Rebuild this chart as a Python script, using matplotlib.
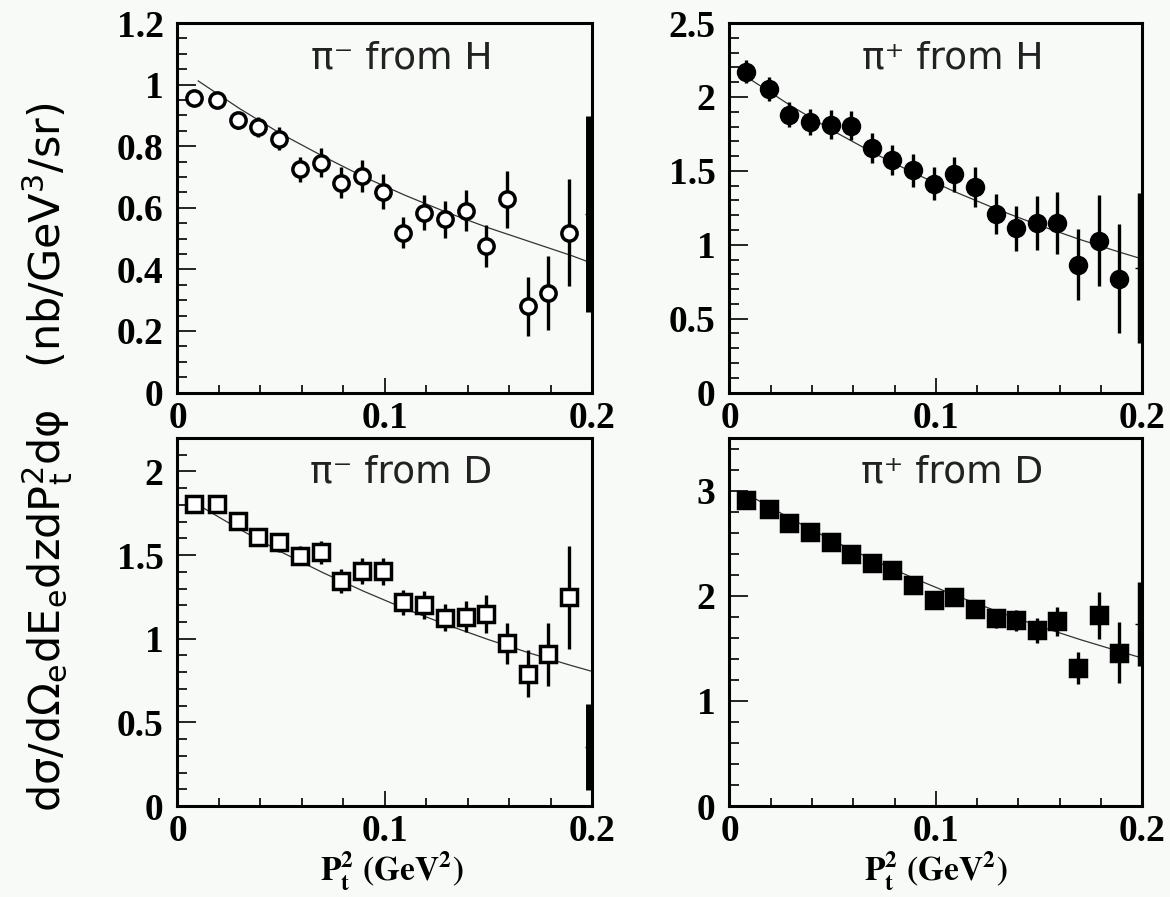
import matplotlib.pyplot as plt
from matplotlib.ticker import MultipleLocator

# P_t^2 bin positions (GeV^2), same for all four panels
pt2 = [0.008, 0.019, 0.029, 0.039, 0.049, 0.059, 0.069, 0.079, 0.089, 0.099,
       0.109, 0.119, 0.129, 0.139, 0.149, 0.159, 0.169, 0.179, 0.189]

# pi- from H
pim_h = [0.955, 0.949, 0.884, 0.863, 0.825, 0.725, 0.746, 0.681, 0.703, 0.652,
         0.519, 0.584, 0.563, 0.590, 0.476, 0.627, 0.280, 0.323, 0.519]
pim_h_err = [0.010, 0.010, 0.027, 0.032, 0.037, 0.040, 0.047, 0.050, 0.052, 0.057,
             0.051, 0.057, 0.060, 0.067, 0.069, 0.093, 0.096, 0.119, 0.173]

# pi+ from H
pip_h = [2.172, 2.055, 1.880, 1.830, 1.813, 1.806, 1.655, 1.573, 1.503, 1.413,
         1.476, 1.391, 1.207, 1.110, 1.147, 1.147, 0.866, 1.028, 0.770]
pip_h_err = [0.078, 0.081, 0.085, 0.090, 0.098, 0.099, 0.104, 0.104, 0.109, 0.112,
             0.121, 0.135, 0.137, 0.151, 0.182, 0.207, 0.239, 0.308, 0.368]

# pi- from D
pim_d = [1.807, 1.807, 1.701, 1.607, 1.577, 1.497, 1.517, 1.347, 1.407, 1.403,
         1.217, 1.203, 1.127, 1.133, 1.147, 0.972, 0.792, 0.906, 1.247]
pim_d_err = [0.020, 0.020, 0.045, 0.052, 0.058, 0.058, 0.070, 0.072, 0.077, 0.080,
             0.075, 0.082, 0.083, 0.093, 0.112, 0.120, 0.142, 0.187, 0.310]

# pi+ from D
pip_d = [2.914, 2.825, 2.692, 2.606, 2.508, 2.397, 2.311, 2.248, 2.105, 1.962,
         1.987, 1.873, 1.787, 1.765, 1.670, 1.756, 1.311, 1.813, 1.460]
pip_d_err = [0.030, 0.035, 0.040, 0.040, 0.045, 0.048, 0.056, 0.060, 0.071, 0.063,
             0.076, 0.075, 0.090, 0.103, 0.119, 0.135, 0.154, 0.225, 0.289]

# fitted curves
fit_x = [0.01, 0.03, 0.05, 0.07, 0.09, 0.11, 0.13, 0.15, 0.17, 0.19, 0.2]
pim_h_fit = [1.012, 0.922, 0.840, 0.768, 0.700, 0.640, 0.585, 0.535, 0.490, 0.445, 0.420]
pip_h_fit = [2.120, 1.938, 1.772, 1.620, 1.481, 1.354, 1.238, 1.132, 1.035, 0.946, 0.904]
pim_d_fit = [1.800, 1.654, 1.519, 1.396, 1.283, 1.178, 1.083, 0.995, 0.914, 0.840, 0.805]
pip_d_fit = [2.950, 2.729, 2.525, 2.336, 2.161, 1.999, 1.850, 1.711, 1.583, 1.465, 1.408]

# systematic bars at the right edge: (y, half-length)
sys_x = 0.1985
pim_h_sys = (0.579, 0.318)
pip_h_sys = (0.844, 0.508)
pim_d_sys = (0.350, 0.257)
pip_d_sys = (1.735, 0.400)

bg = '#f7faf7'
fig = plt.figure(figsize=(11.7, 8.97), dpi=100, facecolor=bg)

panels = [
    # rect, title, y, err, fit, sys, ymax, major, minor, marker, fill, ms, syslw
    ([0.1517, 0.5624, 0.3543, 0.4119], '\u03c0\u207b from H', pim_h, pim_h_err, pim_h_fit,
     pim_h_sys, 1.2, 0.2, 0.05, 'o', 'white', 11, 5),
    ([0.6235, 0.5624, 0.3526, 0.4119], '\u03c0\u207a from H', pip_h, pip_h_err, pip_h_fit,
     pip_h_sys, 2.5, 0.5, 0.1, 'o', 'black', 11.5, 2.5),
    ([0.1517, 0.1014, 0.3543, 0.4103], '\u03c0\u207b from D', pim_d, pim_d_err, pim_d_fit,
     pim_d_sys, 2.2, 0.5, 0.1, 's', 'white', 11, 5),
    ([0.6235, 0.1014, 0.3526, 0.4103], '\u03c0\u207a from D', pip_d, pip_d_err, pip_d_fit,
     pip_d_sys, 3.5, 1.0, 0.2, 's', 'black', 11.5, 2.5),
]

for rect, title, y, err, fit, sys, ymax, major, minor, mk, fill, ms, syslw in panels:
    ax = fig.add_axes(rect)
    ax.set_facecolor(bg)
    ax.plot(fit_x, fit, color='#333333', lw=0.9, zorder=2)
    ax.errorbar(pt2, y, yerr=err, fmt=mk, color='black', mfc=fill, mec='black',
                mew=2.5, ms=ms, elinewidth=2.4, capsize=0, zorder=3)
    ax.errorbar([sys_x], [sys[0]], yerr=[sys[1]], fmt='_', color='black', ms=6,
                elinewidth=syslw, capsize=0, zorder=3, clip_on=False)
    ax.set_xlim(0, 0.2)
    ax.set_ylim(0, ymax)
    ax.xaxis.set_major_locator(MultipleLocator(0.1))
    ax.xaxis.set_minor_locator(MultipleLocator(0.02))
    ax.yaxis.set_major_locator(MultipleLocator(major))
    ax.yaxis.set_minor_locator(MultipleLocator(minor))
    ax.xaxis.set_major_formatter(plt.FuncFormatter(lambda v, p: '%g' % round(v, 3)))
    ax.yaxis.set_major_formatter(plt.FuncFormatter(lambda v, p: '%g' % round(v, 3)))
    ax.tick_params(which='both', direction='in', top=False, right=False, width=1.2)
    ax.tick_params(axis='y', which='major', length=14, pad=10)
    ax.tick_params(axis='y', which='minor', length=7)
    ax.tick_params(axis='x', which='major', length=11, pad=6)
    ax.tick_params(axis='x', which='minor', length=6)
    for lab in ax.get_xticklabels() + ax.get_yticklabels():
        lab.set_fontfamily('Liberation Serif')
        lab.set_fontweight('bold')
        lab.set_fontsize(27)
    for sp in ax.spines.values():
        sp.set_linewidth(2.2)
    ax.text(0.54, 0.905, title, transform=ax.transAxes, ha='center', va='center',
            fontsize=27, color='#222222', family='DejaVu Sans')

fig.text(0.335, 0.029, r'$\mathbf{P_t^2\ (GeV^2)}$', ha='center', va='center',
         fontsize=24, math_fontfamily='stix')
fig.text(0.80, 0.029, r'$\mathbf{P_t^2\ (GeV^2)}$', ha='center', va='center',
         fontsize=24, math_fontfamily='stix')

fig.text(0.040, 0.49,
         'd\u03c3/d\u03a9$_\\mathrm{e}$dE$_\\mathrm{e}$dzdP$_\\mathrm{t}^\\mathrm{2}$d\u03c6'
         '   (nb/GeV$^\\mathrm{3}$/sr)',
         rotation=90, ha='center', va='center', fontsize=31,
         family='DejaVu Sans', math_fontfamily='dejavusans')

fig.savefig('out.png', dpi=100, facecolor=bg)
